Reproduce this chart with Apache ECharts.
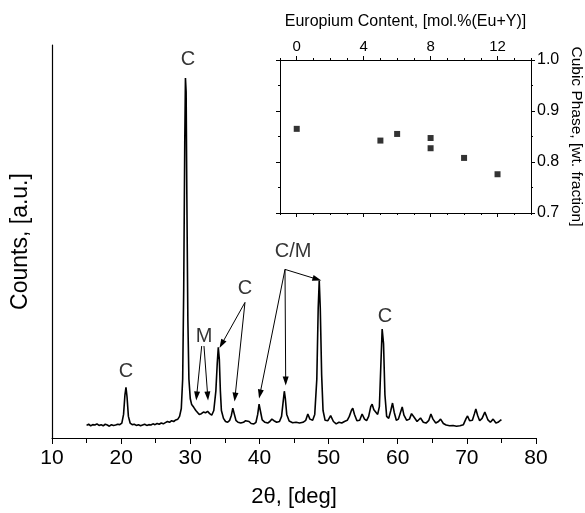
<!DOCTYPE html>
<html>
<head>
<meta charset="utf-8">
<script src="https://cdn.jsdelivr.net/npm/echarts@6/dist/echarts.min.js"></script>
<style>html,body{margin:0;padding:0;background:#fff}#c{width:585px;height:513px}</style>
</head>
<body>
<div id="c"></div>
<script>
// XRD pattern: [2theta, counts (a.u.)]
const xrdPattern = [
[15.0,32],[15.3,35],[15.6,31],[15.9,34],[16.2,33],[16.5,36],[16.8,32],[17.1,34],[17.4,31],[17.7,35],
[18.0,33],[18.3,30],[18.6,34],[18.9,32],[19.2,33],[19.5,35],[19.8,34],[20.1,38],[20.35,60],[20.55,110],
[20.7,129],[20.85,105],[21.05,55],[21.3,38],[21.6,34],[21.9,35],[22.2,32],[22.5,34],[22.8,31],[23.1,33],
[23.4,35],[23.7,32],[24.0,34],[24.3,33],[24.6,36],[24.9,34],[25.2,37],[25.5,35],[25.8,38],[26.1,36],
[26.4,39],[26.7,42],[27.0,40],[27.3,44],[27.6,42],[27.9,46],[28.2,48],[28.45,55],[28.7,75],[28.9,150],
[29.05,380],[29.2,750],[29.3,916],[29.4,880],[29.5,620],[29.65,300],[29.8,150],[30.0,100],[30.2,85],[30.5,78],
[30.8,70],[31.0,68],[31.3,60],[31.6,62],[31.9,66],[32.2,64],[32.5,68],[32.8,62],[33.1,58],[33.4,70],
[33.7,120],[33.9,190],[34.05,231],[34.2,200],[34.35,120],[34.5,70],[34.8,50],[35.1,42],[35.4,40],[35.7,45],
[35.95,58],[36.15,76],[36.35,62],[36.6,45],[36.9,40],[37.3,38],[37.7,40],[38.0,44],[38.25,48],[38.5,42],
[38.8,37],[39.2,36],[39.5,40],[39.75,60],[39.95,86],[40.15,68],[40.4,46],[40.8,40],[41.2,38],[41.5,42],
[41.8,48],[42.1,44],[42.5,40],[42.9,42],[43.2,55],[43.45,95],[43.6,119],[43.75,100],[43.95,60],[44.3,43],
[44.8,39],[45.3,40],[45.8,38],[46.3,40],[46.7,45],[47.0,61],[47.3,48],[47.7,45],[48.0,60],[48.3,150],
[48.5,330],[48.65,401],[48.8,330],[49.0,160],[49.2,70],[49.5,45],[49.9,44],[50.3,57],[50.7,42],[51.1,36],
[51.5,40],[51.9,38],[52.3,42],[52.7,45],[53.0,55],[53.3,70],[53.5,76],[53.75,60],[54.1,44],[54.5,45],
[54.85,61],[55.2,48],[55.5,44],[55.8,55],[56.1,80],[56.3,86],[56.55,72],[56.8,69],[57.1,60],[57.35,80],
[57.55,180],[57.75,277],[57.95,240],[58.15,110],[58.4,55],[58.7,50],[59.0,70],[59.25,89],[59.5,65],[59.8,45],
[60.1,48],[60.4,65],[60.65,79],[60.9,58],[61.3,45],[61.7,48],[62.0,62],[62.15,66],[62.4,52],[62.8,42],
[63.3,51],[63.7,40],[64.1,38],[64.5,45],[64.8,61],[65.1,48],[65.5,38],[65.9,42],[66.2,48],[66.6,37],
[67.0,33],[67.5,31],[68.0,32],[68.5,30],[69.0,31],[69.5,34],[69.9,50],[70.1,56],[70.4,44],[70.8,45],
[71.1,62],[71.3,74],[71.55,58],[71.85,44],[72.2,50],[72.6,66],[72.75,64],[73.05,46],[73.4,40],[73.8,48],
[74.2,38],[74.5,40],[74.8,44],[75.0,47]
];
const mainXTicks = [10, 20, 30, 40, 50, 60, 70, 80];

// Peak annotations: [label, 2theta, counts]
const peakLabels = [
  ['C', 20.7, 170], ['C', 29.67, 962], ['M', 32.0, 259],
  ['C', 37.9, 381], ['C/M', 44.86, 475], ['C', 58.16, 310]
];
// Arrows: [from 2theta, from counts, to 2theta, to counts]
const arrows = [
  [31.65, 234, 30.92, 107], [31.98, 234, 32.52, 107],
  [37.91, 345, 34.54, 239], [37.91, 345, 36.47, 104],
  [43.70, 429, 40.08, 112], [43.70, 429, 43.80, 145], [43.70, 429, 48.33, 404]
];

// Inset: europium content vs cubic phase fraction
const euContent = [0, 5, 6, 8, 8, 10, 12];
const cubicFraction = [0.865, 0.842, 0.855, 0.847, 0.827, 0.808, 0.776];
const insetXTicks = [0, 4, 8, 12];
const insetXMinor = [-1, 1, 2, 3, 5, 6, 7, 9, 10, 11, 13, 14];

const font = 'Liberation Sans, Arial, sans-serif';
const chart = echarts.init(document.getElementById('c'), null, {renderer: 'canvas'});
const black = '#000';
const textColor = '#000';

const insetAxisBase = {
  gridIndex: 1, type: 'value', min: -1, max: 14,
  axisLine: {show: true, onZero: false, lineStyle: {color: black, width: 1}},
  splitLine: {show: false}
};

chart.setOption({
  animation: false,
  backgroundColor: '#fff',
  grid: [
    {left: 52, right: 49, top: 45, bottom: 74},
    {left: 280, top: 60, width: 253, height: 153}
  ],
  xAxis: [
    {
      gridIndex: 0, type: 'value', min: 10, max: 80, interval: 10,
      name: '2\u03b8, [deg]', nameLocation: 'middle', nameGap: 48,
      nameTextStyle: {fontFamily: font, fontSize: 22, color: textColor},
      axisLine: {onZero: false, lineStyle: {color: black, width: 1.2}},
      axisTick: {length: 6, lineStyle: {color: black}},
      minorTick: {show: true, splitNumber: 2, length: 5, lineStyle: {color: black}},
      axisLabel: {fontFamily: font, fontSize: 21, color: textColor, margin: 10},
      splitLine: {show: false}
    },
    Object.assign({}, insetAxisBase, {
      position: 'top',
      name: 'Europium Content, [mol.%(Eu+Y)]', nameLocation: 'middle', nameGap: 30,
      nameTextStyle: {fontFamily: font, fontSize: 16, color: textColor},
      axisTick: {show: true, length: 4, customValues: insetXTicks, lineStyle: {color: black}},
      axisLabel: {show: true, customValues: insetXTicks, fontFamily: font, fontSize: 15, color: textColor, margin: 6}
    }),
    Object.assign({}, insetAxisBase, {
      position: 'top',
      axisTick: {show: true, length: 2, customValues: insetXMinor, lineStyle: {color: black}},
      axisLabel: {show: false}
    }),
    Object.assign({}, insetAxisBase, {
      position: 'bottom',
      axisTick: {show: true, length: 4, customValues: insetXTicks, lineStyle: {color: black}},
      axisLabel: {show: false}
    }),
    Object.assign({}, insetAxisBase, {
      position: 'bottom',
      axisTick: {show: true, length: 2, customValues: insetXMinor, lineStyle: {color: black}},
      axisLabel: {show: false}
    })
  ],
  yAxis: [
    {
      gridIndex: 0, type: 'value', min: 0, max: 1000,
      name: 'Counts, [a.u.]', nameLocation: 'middle', nameGap: 20, nameRotate: 90,
      nameTextStyle: {fontFamily: font, fontSize: 23, color: textColor},
      axisLine: {show: true, onZero: false, lineStyle: {color: black, width: 1.2}},
      axisTick: {show: false}, axisLabel: {show: false}, splitLine: {show: false}
    },
    {
      gridIndex: 1, type: 'value', min: 0.7, max: 1.0, interval: 0.1, position: 'right',
      name: 'Cubic Phase, [wt. fraction]', nameLocation: 'middle', nameGap: 37, nameRotate: -90,
      nameTextStyle: {fontFamily: font, fontSize: 15.5, color: textColor},
      axisLine: {show: true, onZero: false, lineStyle: {color: black, width: 1}},
      axisTick: {show: true, length: 4, lineStyle: {color: black}},
      minorTick: {show: true, splitNumber: 2, length: 2, lineStyle: {color: black}},
      axisLabel: {fontFamily: font, fontSize: 16, color: textColor, margin: 6, formatter: v => v.toFixed(1)},
      splitLine: {show: false}
    },
    {
      gridIndex: 1, type: 'value', min: 0.7, max: 1.0, interval: 0.1, position: 'left',
      axisLine: {show: true, onZero: false, lineStyle: {color: black, width: 1}},
      axisTick: {show: true, length: 4, lineStyle: {color: black}},
      minorTick: {show: true, splitNumber: 2, length: 2, lineStyle: {color: black}},
      axisLabel: {show: false}, splitLine: {show: false}
    }
  ],
  series: [
    {
      type: 'line', xAxisIndex: 0, yAxisIndex: 0, data: xrdPattern,
      showSymbol: false, symbol: 'none', lineStyle: {color: black, width: 1.6}, silent: true,
      markLine: {
        silent: true, symbol: ['none', 'triangle'], symbolSize: [6, 9],
        lineStyle: {color: black, width: 1, type: 'solid'}, label: {show: false},
        data: arrows.map(a => [{coord: [a[0], a[1]]}, {coord: [a[2], a[3]]}])
      }
    },
    {
      type: 'scatter', xAxisIndex: 0, yAxisIndex: 0, symbolSize: 0, silent: true,
      data: peakLabels.map(p => ({name: p[0], value: [p[1], p[2]]})),
      label: {show: true, position: 'inside', formatter: '{b}', fontFamily: font, fontSize: 20, color: textColor}
    },
    {
      type: 'scatter', xAxisIndex: 1, yAxisIndex: 1, symbol: 'rect', symbolSize: 6,
      itemStyle: {color: black}, data: euContent.map((e, i) => [e, cubicFraction[i]])
    }
  ]
});
</script>
</body>
</html>
